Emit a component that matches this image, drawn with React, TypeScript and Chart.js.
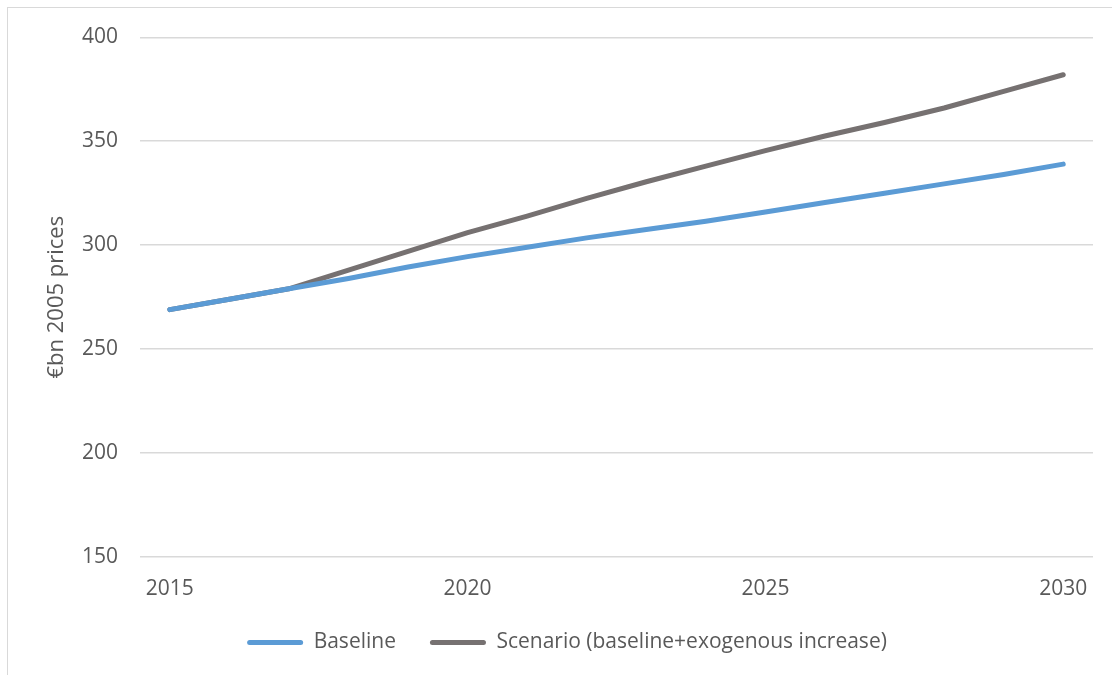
import React, { useEffect, useRef } from "react";
import { Chart, registerables } from "chart.js";

Chart.register(...registerables);

const years = ["2015","2016","2017","2018","2019","2020","2021","2022","2023","2024","2025","2026","2027","2028","2029","2030"];
const baseline = [269, 274, 279, 284, 289.5, 294.5, 299, 303.5, 307.5, 311.5, 316, 320.5, 325, 329.5, 334, 339];
const scenario = [269, 274, 279, 288, 297, 306, 314, 322.5, 330.5, 338, 345.5, 352.5, 359, 366, 374, 382];
const yTicks = [150, 200, 250, 300, 350, 400];

const FONT = "'Open Sans', sans-serif";
const TEXT = "#595959";

export default function App() {
  const ref = useRef<HTMLCanvasElement>(null);
  useEffect(() => {
    if (!ref.current) return;
    const chart = new Chart(ref.current, {
      type: "line",
      data: {
        labels: years,
        datasets: [
          { label: "Baseline", data: baseline, borderColor: "#5B9BD5", backgroundColor: "#5B9BD5", borderWidth: 5, pointRadius: 0, tension: 0, borderCapStyle: "round", borderJoinStyle: "round" },
          { label: "Scenario (baseline+exogenous increase)", data: scenario, borderColor: "#767171", backgroundColor: "#767171", borderWidth: 5, pointRadius: 0, tension: 0, borderCapStyle: "round", borderJoinStyle: "round" },
        ],
      },
      options: {
        animation: false,
        responsive: false,
        maintainAspectRatio: false,
        layout: { padding: { top: 29.3, right: 19, left: 33, bottom: 45 } },
        plugins: {
          tooltip: { enabled: false },
          legend: {
            position: "bottom",
            labels: {
              color: TEXT,
              font: { family: FONT, size: 21 },
              boxWidth: 56,
              boxHeight: 5,
              padding: 34,
              generateLabels: (c: any) =>
                Chart.defaults.plugins.legend.labels.generateLabels(c).map((l: any) => ({ ...l, lineWidth: 0, borderRadius: 2.5 })),
            },
          },
        },
        scales: {
          x: {
            offset: true,
            grid: { display: false, drawTicks: false },
            border: { display: false },
            ticks: {
              autoSkip: false,
              maxRotation: 0,
              color: TEXT,
              font: { family: FONT, size: 21, lineHeight: 1 },
              padding: 21.5,
              callback: (_v: any, i: number) => (i % 5 === 0 ? years[i] : ""),
            },
            afterFit: (s: any) => { s.height = 41; },
          },
          y: {
            min: yTicks[0],
            max: yTicks[yTicks.length - 1],
            grid: { color: "#D9D9D9", lineWidth: 1.5, drawTicks: false },
            border: { display: false },
            ticks: { stepSize: 50, color: TEXT, font: { family: FONT, size: 21, lineHeight: 0.5 }, padding: 22 },
            title: { display: true, text: "€bn 2005 prices", color: TEXT, font: { family: FONT, size: 22 }, padding: { top: 3, bottom: 0 } },
            afterFit: (s: any) => { s.width = 99; },
          },
        },
      },
    });
    return () => chart.destroy();
  }, []);
  return (
    <div style={{ position: "absolute", left: 7, top: 7, width: 1105, height: 668, overflow: "hidden", borderTop: "1px solid #D9D9D9", borderLeft: "1px solid #D9D9D9", background: "#fff" }}>
      <canvas ref={ref} width={1104} height={700} style={{ position: "absolute", left: 0, top: 0, width: 1104, height: 700 }} />
    </div>
  );
}
